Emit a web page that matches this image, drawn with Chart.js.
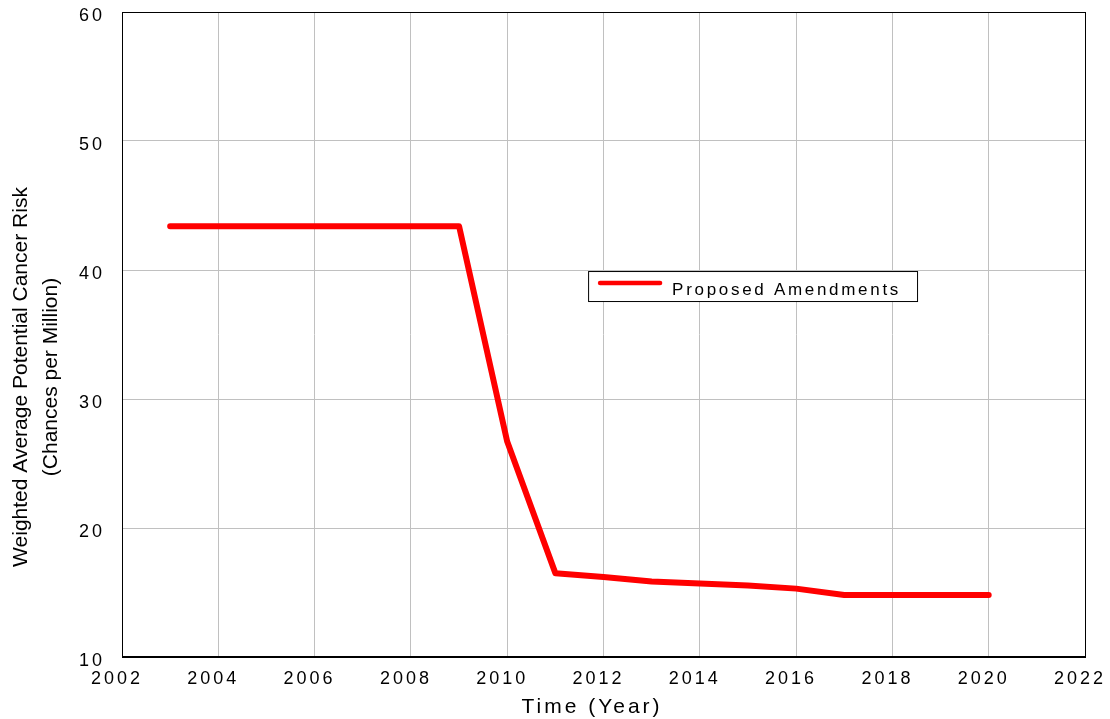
<!DOCTYPE html>
<html>
<head>
<meta charset="utf-8">
<script src="https://cdn.jsdelivr.net/npm/chart.js@4.4.1/dist/chart.umd.min.js"></script>
<style>
  html, body { margin: 0; padding: 0; background: #fff; }
  #wrap { width: 1110px; height: 719px; position: relative; }
</style>
</head>
<body>
<div id="wrap"><canvas id="risk_chart"></canvas></div>
<script>
// values
const years = [2003, 2004, 2005, 2006, 2007, 2008, 2009, 2010, 2011, 2012, 2013, 2014, 2015, 2016, 2017, 2018, 2019, 2020];
const risk  = [43.4, 43.4, 43.4, 43.4, 43.4, 43.4, 43.4, 26.7, 16.5, 16.2, 15.85, 15.7, 15.55, 15.3, 14.8, 14.8, 14.8, 14.8];
const series_label = 'Proposed Amendments';
const y_title = ['Weighted Average Potential Cancer Risk', '(Chances per Million)'];
const x_title = 'Time (Year)';

const font_family = "'Liberation Sans', Arial, Helvetica, sans-serif";

// spaced-out lettering like the original plot software
const spacing_plugin = {
    id: 'spacing',
    beforeDraw( chart ){
        chart.ctx.letterSpacing = '3px';
    }
};

// black frame around the plot area
const frame_plugin = {
    id: 'frame',
    afterDraw( chart ){
        const a   = chart.chartArea;
        const ctx = chart.ctx;
        ctx.save();
        ctx.strokeStyle = '#000';
        ctx.lineWidth = 1;
        ctx.strokeRect( a.left + 0.5, a.top + 0.5, a.right - a.left, a.bottom - a.top );
        ctx.lineWidth = 2;
        ctx.beginPath();
        ctx.moveTo( a.left, a.bottom );
        ctx.lineTo( a.right + 1, a.bottom );
        ctx.stroke();
        ctx.restore();
    }
};

// boxed legend sitting inside the plot
const box_legend_plugin = {
    id: 'boxLegend',
    afterDraw( chart ){
        const a   = chart.chartArea;
        const ctx = chart.ctx;
        const ds  = chart.data.datasets[0];
        const left = a.left + ( a.right - a.left ) * 0.484;
        const top  = a.top + ( a.bottom - a.top ) * 0.4016;
        ctx.save();
        ctx.font = '17px ' + font_family;
        ctx.letterSpacing = '2.7px';
        const tw = ctx.measureText( ds.label ).width;
        const w = 84 + tw + 16;
        const h = 30;
        ctx.fillStyle = '#fff';
        ctx.fillRect( left, top, w, h );
        ctx.strokeStyle = '#000';
        ctx.lineWidth = 1;
        ctx.strokeRect( left + 0.5, top + 0.5, w, h );
        ctx.strokeStyle = ds.borderColor;
        ctx.lineWidth = 4.5;
        ctx.lineCap = 'round';
        ctx.beginPath();
        ctx.moveTo( left + 12, top + 12 );
        ctx.lineTo( left + 72, top + 12 );
        ctx.stroke();
        ctx.fillStyle = '#000';
        ctx.textBaseline = 'alphabetic';
        ctx.textAlign = 'left';
        ctx.fillText( ds.label, left + 84, top + 24 );
        ctx.restore();
    }
};

// axis titles (y is rotated and two lines, x sits a bit left of centre)
const titles_plugin = {
    id: 'axisTitles',
    afterDraw( chart ){
        const ctx = chart.ctx;
        ctx.save();
        ctx.fillStyle = '#000';
        ctx.textAlign = 'center';
        ctx.textBaseline = 'middle';

        ctx.letterSpacing = '3px';
        ctx.font = '21px ' + font_family;
        ctx.fillText( x_title, 592, 707 );

        ctx.letterSpacing = '0px';
        ctx.translate( 21, 377 );
        ctx.rotate( -Math.PI / 2 );
        ctx.fillText( y_title[0], 0, 0 );
        ctx.fillText( y_title[1], 0, 30 );
        ctx.restore();
    }
};

const points = years.map( ( yr, i ) => ({ x: yr, y: risk[i] }) );

const risk_config = {
    type: 'line',
    data: {
        datasets: [{
            label: series_label,
            data: points,
            borderColor: '#ff0000',
            borderWidth: 6,
            borderCapStyle: 'round',
            borderJoinStyle: 'round',
            pointRadius: 0,
            tension: 0,
            fill: false
        }]
    },
    options: {
        responsive: true,
        maintainAspectRatio: false,
        animation: false,
        layout: {
            padding: { top: 12, right: 25, left: 0, bottom: 0 }
        },
        plugins: {
            legend:  { display: false },
            tooltip: { enabled: false }
        },
        scales: {
            x: {
                type: 'linear',
                min: 2002,
                max: 2022,
                afterFit( scale ){
                    scale.height = 62;
                    scale.paddingLeft = 0;
                    scale.paddingRight = 0;
                },
                ticks: {
                    stepSize: 2,
                    padding: 11,
                    labelOffset: -5,
                    color: '#000',
                    font: { family: font_family, size: 18 },
                    maxRotation: 0,
                    callback: v => String( v )
                },
                grid: { color: '#c0c0c0', lineWidth: 1, drawTicks: false },
                border: { display: false }
            },
            y: {
                min: 10,
                max: 60,
                afterFit( scale ){
                    scale.width = 122;
                    scale.paddingTop = 0;
                    scale.paddingBottom = 0;
                },
                ticks: {
                    stepSize: 10,
                    padding: 17,
                    labelOffset: 4,
                    color: '#000',
                    font: { family: font_family, size: 18 }
                },
                grid: { color: '#c0c0c0', lineWidth: 1, drawTicks: false },
                border: { display: false }
            }
        }
    },
    plugins: [ spacing_plugin, frame_plugin, box_legend_plugin, titles_plugin ]
};

const risk_chart = new Chart(
    document.getElementById('risk_chart'),
    risk_config
);
</script>
</body>
</html>
